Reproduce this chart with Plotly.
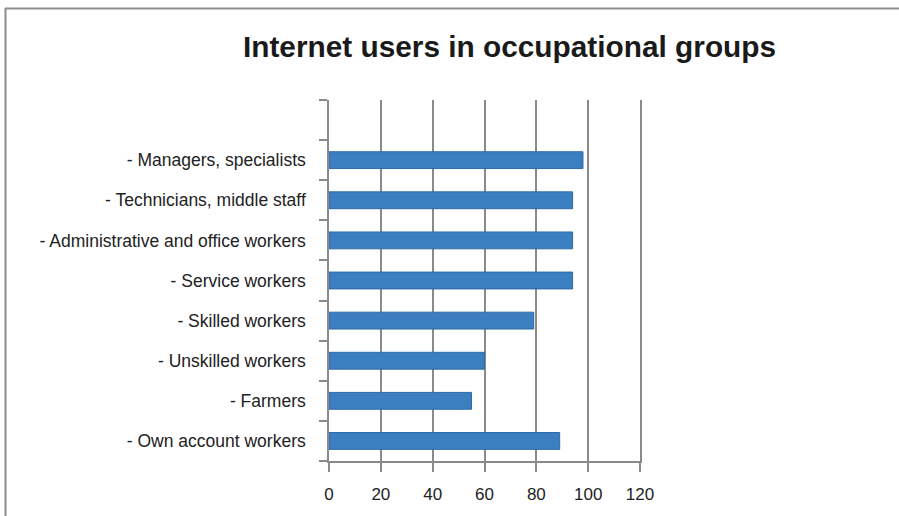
import plotly.graph_objects as go

# Share of internet users by occupational group (%)
categories = [
    "- Managers, specialists",
    "- Technicians, middle staff",
    "- Administrative and office workers",
    "- Service workers",
    "- Skilled workers",
    "- Unskilled workers",
    "- Farmers",
    "- Own account workers",
]
values = [98, 94, 94, 94, 79, 60, 55, 89]
x_ticks = [0, 20, 40, 60, 80, 100, 120]

# Plot-area geometry in pixels
W, H = 899, 516
L, R, T, B = 329, 640, 100, 461

# Bottom-to-top order, with an empty slot left above the first group
n = len(categories)
ypos = list(range(n - 1, -1, -1))

fig = go.Figure(
    go.Bar(
        x=values,
        y=ypos,
        orientation="h",
        width=0.42,
        marker=dict(color="#3b7fc1", line=dict(color="#2f6aa6", width=1)),
        hoverinfo="skip",
    )
)

grid_col = "#8a8a8a"
font_family = "Liberation Sans, Arial, sans-serif"

fig.update_layout(
    width=W,
    height=H,
    margin=dict(l=L, r=W - R, t=T, b=H - B, pad=0),
    paper_bgcolor="white",
    plot_bgcolor="white",
    showlegend=False,
    font=dict(family=font_family, color="#222222", size=17),
    title=dict(
        text="<b>Internet users in occupational groups</b>",
        font=dict(size=29.8, color="#1a1a1a", family=font_family),
        x=509.5 / W,
        xanchor="center",
        y=1 - 47 / H,
        yanchor="middle",
    ),
)

fig.update_xaxes(
    range=[0, 120],
    tickvals=x_ticks,
    ticktext=[str(v) for v in x_ticks],
    showgrid=True,
    gridcolor=grid_col,
    gridwidth=1.5,
    zeroline=False,
    showline=True,
    linecolor=grid_col,
    linewidth=1.5,
    ticks="outside",
    ticklen=9,
    tickwidth=1.5,
    tickcolor=grid_col,
    tickfont=dict(size=17, color="#222222"),
    ticklabelstandoff=8,
    fixedrange=True,
)

fig.update_yaxes(
    range=[-0.5, n + 0.5],
    tickvals=list(range(n)),
    ticktext=categories[::-1],
    showgrid=False,
    zeroline=False,
    showline=True,
    mirror=True,
    linecolor=grid_col,
    linewidth=1.5,
    ticks="",
    tickfont=dict(size=17.5, color="#222222"),
    ticklabelstandoff=18,
    minor=dict(
        tickvals=[i - 0.5 for i in range(n + 2)],
        ticks="outside",
        ticklen=8,
        tickwidth=1.5,
        tickcolor=grid_col,
        showgrid=False,
    ),
    fixedrange=True,
)

# Frame lines along the top and left of the figure
pw, ph = R - L, B - T
fig.add_shape(
    type="line", xref="paper", yref="paper",
    x0=(5 - L) / pw, x1=(W - L) / pw,
    y0=(B - 8.5) / ph, y1=(B - 8.5) / ph,
    line=dict(color="#8c8c8c", width=2),
)
fig.add_shape(
    type="line", xref="paper", yref="paper",
    x0=(5.5 - L) / pw, x1=(5.5 - L) / pw,
    y0=(B - 8) / ph, y1=(B - H) / ph,
    line=dict(color="#8c8c8c", width=2),
)

fig.write_html("out.html")
